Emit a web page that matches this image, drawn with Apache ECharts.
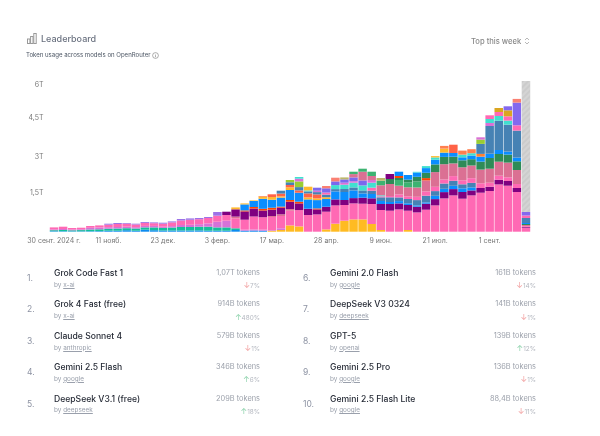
<!DOCTYPE html>
<html><head><meta charset="utf-8">
<style>
html,body{margin:0;padding:0;background:#fff;width:600px;height:436px;overflow:hidden;font-family:Inter,"Noto Sans",sans-serif}
#chart{position:absolute;left:0;top:0;width:600px;height:436px}
.t{position:absolute;white-space:nowrap;line-height:1}
.u{text-decoration:underline}
</style>
<script src="https://cdn.jsdelivr.net/npm/echarts@6/dist/echarts.min.js"></script>
</head><body>
<div id="chart"></div>
<svg style="position:absolute;left:27px;top:33px" width="10" height="11" viewBox="0 0 10 11" fill="none" stroke="#999" stroke-width="1"><rect x=".5" y="6" width="2.4" height="4.5"/><rect x="3.6" y="3.5" width="2.4" height="7"/><rect x="6.8" y=".5" width="2.4" height="10"/></svg>
<div class="t" style="left:41px;top:33.5px;font-size:9px;font-weight:500;color:#6b7280">Leaderboard</div>
<div class="t" style="left:26px;top:51.5px;font-size:6.05px;color:#4b5563">Token usage across models on OpenRouter</div>
<svg style="position:absolute;left:152px;top:52px" width="7" height="7" viewBox="0 0 7 7" fill="none" stroke="#777" stroke-width=".6"><circle cx="3.5" cy="3.5" r="2.9"/><path d="M3.5 3.1V5.2M3.5 1.9V2.4"/></svg>
<div class="t" style="left:471px;top:37.5px;font-size:7.6px;font-weight:500;color:#888">Top this week</div>
<svg style="position:absolute;left:524px;top:37px" width="6" height="8" viewBox="0 0 6 8" fill="none" stroke="#999" stroke-width=".7"><path d="M1 3L3 1L5 3M1 5L3 7L5 5"/></svg>
<div id="list"></div>
<script>
const none = n => Array(n).fill(0);
const tickLabels = ['30 сент. 2024 г.','11 нояб.','23 дек.','3 февр.','17 мар.','28 апр.','9 июн.','21 июл.','1 сент.'];
const yTickLabels = ['1,5T','3T','4,5T','6T'];
const ranks = ['1.','2.','3.','4.','5.','6.','7.','8.','9.','10.'];
const models = ['Grok Code Fast 1','Grok 4 Fast (free)','Claude Sonnet 4','Gemini 2.5 Flash','DeepSeek V3.1 (free)','Gemini 2.0 Flash','DeepSeek V3 0324','GPT-5','Gemini 2.5 Pro','Gemini 2.5 Flash Lite'];
const providers = ['x-ai','x-ai','anthropic','google','deepseek','google','deepseek','openai','google','google'];
const tokens = ['1,07T','914B','579B','346B','209B','161B','141B','139B','136B','88,4B'];
const changes = [-7,480,-1,6,18,-14,-1,12,-1,-11];

// Weekly readings, one unit = 40.7B tokens, bottom of the stack first.
const tokensPerUnit = 0.0407;
const blueLow = [.5,.5,.4,.4,.5,.6,1,1,1.5,1, 2,1.5,1.2,1.2,1.2,1.2,1.3,1,1,1, 1.7,1,1.2,1];
const teal = [1,1.2,1,1.2,1.7,1.8,2,2.2,2,2.2, 2.3,2.8,2.6,3,3.5,3.5,3.7,4,3.3,3.3, 1.7];
const amber = [...none(24),1,1.7,6.3,5.3,0,0,2.3,8,11,12.3,12.3,7.7,1.7,0,0,1.7];
const orchidLow = [.8,1,.8,.8,1.7,1.8,1.5,1.5,1.5,1.3, 1.5,1.5,1.2,1.4,2,2.2,2.5,3.3,5.7,6.7, 0,1,1,1,.7,1.7];
const pink = [2,2.3,1.5,1.6,1.8,2.1,2.5,3,3,2.7, 3,2.7,3,3.7,4.5,5,5,5.4,6,5.7, 10,10,13,12.5,13,12.3,14.7,16.3,16.7,17.3, 17.7,18.3,15.7,16,15.7,20,20,21,22.3,19.3, 19.3,22,26.3,33.3,36.3,33,36.3,39,40.7,47.3, 46,39.7,4];
const pvrLow = [...none(20),1.7,0,0,0,1,1.7,1.7];
const violetLow = [...none(6),1,1,.7,.8,.9,.8,1,1,1.5,1.4,1.2,1,3.7];
const purple = [...none(19),3.3,7.3,8.3,8,6.7,6.3,6.7,7.3,6.7,6.3,5,5,6,5,5.3,6,5.7,6,6.7,6,5.7,5.7,6,6.3,6.3,6.3,6.7,5,4.7,4.3,4.7,4.7,4,.7];
const orangeLow = [...none(21),1,1.5,1.7,2,1,1.7,1.7,0,1];
const blue = [...none(21),6,6,10,8,9,10,9,9.3,8.3,7.7,8,8,7.7,4.3,4.3,3,2,2.3,1.7,1.3,1.3,3.3,3.3,3.3,3.7,3];
const amberMid = [...none(20),1.9,1,.6,2.3,2.7,1.3,2.7,0,2,1.7,1.7];
const tomato = [...none(23),.5,2.7,2.7,2.3,2.3,4,4];
const steel = [...none(25),2.9,2.7,3.3,2,2.3,2.7,2.3,3,3,3,3.3,3.7,4.7,3.7,4.3,5.3,6.7,4.7,5.3,5,4,4.5];
const pink2 = [...none(30),2,0,0,0,0,3,1,1.3,3,2.7,3.3,4.3,4.3,4,4.7,4,4.7,4.7,4,4,3.7,4,.8];
const turq = [...none(28),1,0,0,4,4.3,4.7,5,5,1];
const orchid2 = [...none(29),1.4,0,0,2,1.5,0,2.7];
const violet2 = [...none(29),3,4.3,3.7,3.3,3.8,5];
const pvr = [...none(33),3.3,8.7,4,10,12,8.7,9,9.3,11,14.7,15.3,12.7,13,12.7,13.7,14,14,14.7,14,1.2];
const orange3 = [...none(41),2.3];
const seagreen = [...none(33),2.4,3,4.3,4.6,0,5.7,5,6];
const dkgreen = [...none(37),5,2,2.7,4.7,5.3,7.7,7.3,6.7,7,6.3,8,10.7,7.7,8,8.7,1];
const orange2 = [...none(38),2];
const blue2 = [...none(38),4.3,4.6,4.3,4.7,4.7,4.3,3.7,3,3.7,5,4.3,4,3,3.7,1];
const orange5 = [...none(47),2.7];
const steel2 = [...none(47),10,27.7,29.3,27,27,5];
const yellowgreen = [...none(26),2.3,5.7,...none(19),4.3];
const orchid3 = [...none(27),2.7,...none(19),2.3,3];
const turq3 = [...none(27),1.7,...none(12),.7,2,2.3,0,0,2.7,2.3,0,4,4.7,4];
const pink3 = [...none(48),3.7,4,4.3,5.3,2.5];
const goldenrod = [...none(49),4,6];
const violet3 = [...none(50),4,22.7,3.5];
const amberTop = [...none(28),3.7,...none(13),1.3,4];
const tomatoTop = [...none(44),8.3];
const coral = [...none(43),2.7,0,4,4];
const salmon = [...none(30),2.3,3.7,...none(19),3.7];
const tan = [...none(32),2,0,0,0,2.7];
const purple2 = [...none(37),5];
const incomplete = [...none(52),131];

const layers = [
 [blueLow,'#0d8bf0'],[teal,'#14bf9b'],[amber,'#ffbb22'],[orchidLow,'#d572d8'],[pink,'#ff69b4'],[pvrLow,'#db7093'],
 [violetLow,'#9c72e8'],[purple,'#800080'],[orangeLow,'#ff4500'],[blue,'#0a8dff'],[amberMid,'#ffb92e'],[tomato,'#ff6347'],
 [steel,'#4682b4'],[pink2,'#ff69b4'],[turq,'#40e0d0'],[orchid2,'#da70d6'],[violet2,'#7b68ee'],[pvr,'#db7093'],
 [orange3,'#ff4500'],[seagreen,'#3cb371'],[dkgreen,'#2e8b57'],[orange2,'#ff4500'],[blue2,'#0a8dff'],[orange5,'#ff7f30'],
 [steel2,'#4682b4'],[yellowgreen,'#9acd32'],[orchid3,'#da70d6'],[turq3,'#40e0d0'],[pink3,'#ff69b4'],[goldenrod,'#daa520'],
 [violet3,'#8468ee'],[amberTop,'#ffb92e'],[tomatoTop,'#ff6347'],[coral,'#ff7f50'],[salmon,'#fa8072'],[tan,'#bdb76b'],[purple2,'#800080']
];
const weeks = pink.map((_, i) => i);
const series = layers.map(([vals, color]) => ({
  type:'bar', stack:'all', barWidth:8.5, silent:true,
  itemStyle:{color},
  data:weeks.map(i => vals[i] ? +(vals[i]*tokensPerUnit).toFixed(4) : null)
}));
series.push({
  type:'bar', stack:'all', barWidth:8.5, silent:true,
  itemStyle:{color:'#cbcbcb', decal:{symbol:'rect',dashArrayX:[1,0],dashArrayY:[1.5,2],rotation:-Math.PI/4,color:'rgba(255,255,255,.18)'}},
  data:weeks.map(i => incomplete[i] ? +(incomplete[i]*tokensPerUnit).toFixed(4) : null)
});

const axisFont = {fontFamily:'Inter',fontSize:7,color:'#777'};
const chart = echarts.init(document.getElementById('chart'), null, {renderer:'canvas'});
chart.setOption({
  animation:false,
  backgroundColor:'#fff',
  grid:{left:49.5,top:81,width:481,height:150.7,containLabel:false},
  xAxis:{type:'category',data:weeks,axisLine:{show:false},axisTick:{show:false},
    axisLabel:{interval:5,margin:6,...axisFont,hideOverlap:false,
      formatter:(v,i)=>tickLabels[i/6]||''}},
  yAxis:{type:'value',min:0,max:150.7*tokensPerUnit,interval:1.5,splitLine:{show:false},axisLine:{show:false},axisTick:{show:false},
    axisLabel:{margin:6,...axisFont,showMaxLabel:false,showMinLabel:false,
      rich:{
        a:{...axisFont,padding:[0,0,3,0]},
        b:{...axisFont,padding:[0,0,3,0]},
        c:{...axisFont,padding:[0,0,7,0]},
        d:{...axisFont,padding:[2,0,0,0]}
      },
      formatter:v=>{const i=Math.round(v/1.5)-1;return yTickLabels[i]?`{${'abcd'[i]}|${yTickLabels[i]}}`:'';}}},
  series
});

const list = document.getElementById('list');
const add = (x,y,txt,style,right) => {
  const d=document.createElement('div');d.className='t';
  d.style.cssText=(right?`right:${600-x}px;`:`left:${x}px;`)+`top:${y}px;`+style;
  d.innerHTML=txt;list.appendChild(d);
};
models.forEach((m,i)=>{
  const col=i<5?0:1,row=i%5;
  const y=273.3+row*31.35;
  const lx=col?303:27,nx=col?330:54,rx=col?536:260;
  add(lx,y+.8,ranks[i],'font-size:8.5px;color:#8d93a3');
  add(nx,y-4.2,m,'font-size:8.6px;font-weight:500;color:#262b36');
  add(nx,y+8.5,`by <span class="u">${providers[i]}</span>`,'font-size:6.4px;color:#9aa0ac');
  add(rx,y-4.2,`${tokens[i]} tokens`,'font-size:7.4px;color:#9ca1ab',true);
  const up=changes[i]>0;
  add(rx,y+8,`<span style="font-size:8px;color:${up?'#8fd3ad':'#f2a3a3'}">${up?'↑':'↓'}</span>${Math.abs(changes[i])}%`,'font-size:6.4px;color:#b4b8c0',true);
});
</script>
</body></html>
